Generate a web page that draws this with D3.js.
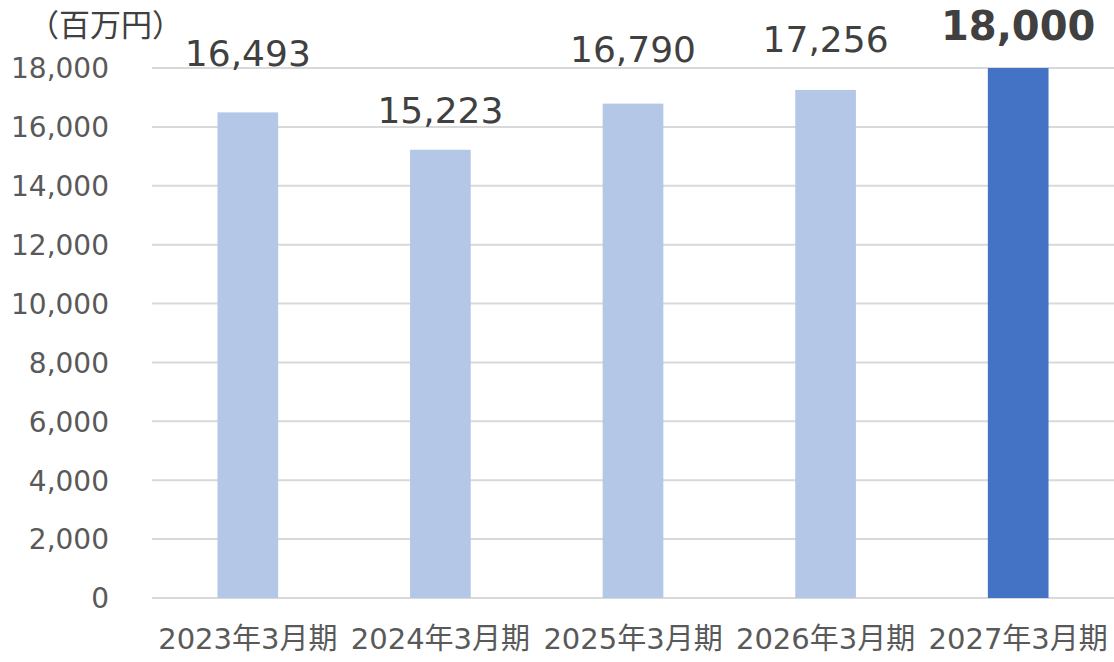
<!DOCTYPE html>
<meta charset="utf-8">
<style>
body { margin: 0; background: #fff; }
text { font-family: "DejaVu Sans", "Noto Sans CJK JP", sans-serif; }
.grid line { stroke: #d9d9d9; stroke-width: 2px; }
</style>
<body>
<script src="https://cdn.jsdelivr.net/npm/d3@7"></script>
<script>

// data
var periods = ["2023年3月期", "2024年3月期", "2025年3月期", "2026年3月期", "2027年3月期"];
var sales = [16493, 15223, 16790, 17256, 18000];
var yTicks = [0, 2000, 4000, 6000, 8000, 10000, 12000, 14000, 16000, 18000];
var unitLabel = "（百万円）";

// label nudges (px above bar top), labels were hand placed in the original
var labelGap = [46, 27, 42, 38, 28];

var width = 1114, height = 662;
var margin = {top: 68, right: 0, bottom: 64, left: 152};

var svg = d3.select("body").append("svg")
    .attr("width", width)
    .attr("height", height);

var x = d3.scaleBand()
    .domain(periods)
    .range([margin.left, width - margin.right])
    .paddingInner(0.685)
    .paddingOuter(0.34);

var y = d3.scaleLinear()
    .domain([0, 18000])
    .range([height - margin.bottom, margin.top]);

// gridlines
svg.append("g")
    .attr("class", "grid")
  .selectAll("line")
  .data(yTicks)
  .enter().append("line")
    .attr("x1", margin.left)
    .attr("x2", width - margin.right)
    .attr("y1", function(d) { return y(d); })
    .attr("y2", function(d) { return y(d); });

// y axis labels
var yAxis = svg.append("g")
    .attr("transform", "translate(" + (margin.left - 40) + ",0)")
    .call(d3.axisLeft(y).tickValues(yTicks).tickSize(0).tickFormat(d3.format(",")));
yAxis.select(".domain").remove();
yAxis.selectAll("text")
    .attr("fill", "#595959")
    .style("font-size", "28px")
    .attr("dy", "0.35em");

// x axis labels
var xAxis = svg.append("g")
    .attr("transform", "translate(0," + (height - margin.bottom) + ")")
    .call(d3.axisBottom(x).tickSize(0));
xAxis.select(".domain").remove();
xAxis.selectAll("text")
    .attr("fill", "#595959")
    .attr("y", 41)
    .attr("dy", "0.35em")
    .style("font-size", "29px");

// bars
svg.selectAll(".bar")
  .data(sales)
  .enter().append("rect")
    .attr("class", "bar")
    .attr("x", function(d, i) { return x(periods[i]); })
    .attr("width", x.bandwidth())
    .attr("y", function(d) { return y(d); })
    .attr("height", function(d) { return y(0) - y(d); })
    .attr("fill", function(d, i) { return i == sales.length - 1 ? "#4472c4" : "#b4c7e7"; });

// value labels
svg.selectAll(".val")
  .data(sales)
  .enter().append("text")
    .attr("class", "val")
    .attr("x", function(d, i) { return x(periods[i]) + x.bandwidth() / 2; })
    .attr("y", function(d, i) { return y(d) - labelGap[i]; })
    .attr("text-anchor", "middle")
    .attr("fill", "#404040")
    .style("font-size", function(d, i) { return i == sales.length - 1 ? "40px" : "36px"; })
    .style("font-weight", function(d, i) { return i == sales.length - 1 ? "bold" : "normal"; })
    .text(function(d) { return d3.format(",")(d); });

// unit
svg.append("text")
    .attr("x", 28)
    .attr("y", 36)
    .attr("fill", "#404040")
    .style("font-family", "'Noto Sans CJK JP', sans-serif")
    .style("font-size", "31px")
    .text(unitLabel);

</script>
</body>
